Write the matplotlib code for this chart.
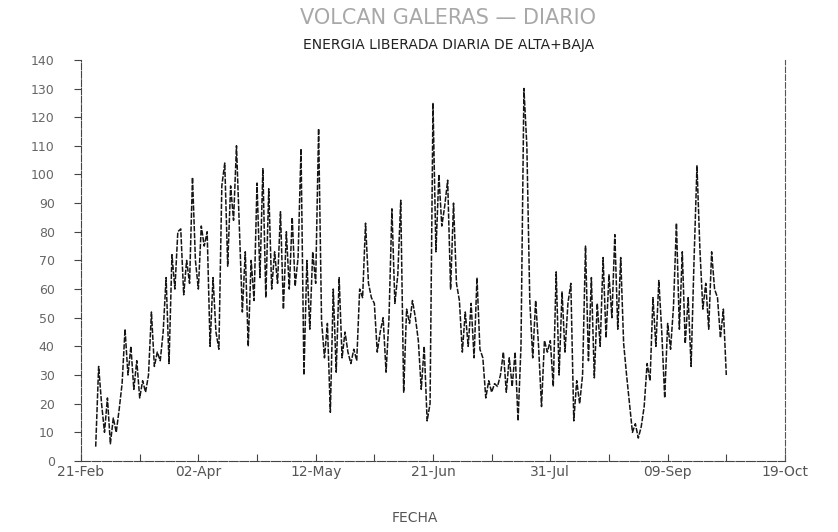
import matplotlib
matplotlib.use("Agg")
import matplotlib.pyplot as plt
import pandas as pd

# ---- data (daily released energy) ----
start_date = "1993-02-26"
energy = [5, 33, 20, 10, 22, 6, 15, 10, 18, 27,
          46, 30, 40, 25, 35, 22, 28, 24, 30, 52,
          33, 38, 35, 45, 64, 34, 72, 60, 80, 81,
          58, 70, 62, 99, 70, 60, 82, 75, 80, 40,
          64, 45, 39, 96, 104, 68, 96, 84, 110, 81,
          52, 73, 40, 70, 56, 97, 64, 102, 57, 95,
          60, 73, 62, 87, 53, 80, 60, 85, 61, 71,
          109, 30, 70, 46, 73, 62, 116, 49, 36, 48,
          17, 60, 31, 64, 36, 45, 38, 34, 39, 35,
          60, 57, 83, 62, 57, 55, 38, 45, 50, 31,
          50, 88, 55, 65, 91, 24, 53, 48, 56, 50,
          42, 25, 40, 14, 20, 125, 73, 100, 82, 89,
          98, 60, 90, 62, 56, 38, 52, 40, 55, 36,
          64, 39, 36, 22, 28, 24, 27, 26, 30, 38,
          24, 36, 26, 38, 14, 40, 130, 110, 56, 36,
          56, 40, 19, 42, 38, 42, 26, 66, 30, 59,
          38, 55, 62, 14, 28, 20, 30, 75, 35, 64,
          29, 55, 40, 71, 43, 65, 50, 79, 46, 71,
          41, 30, 20, 10, 13, 8, 12, 19, 34, 28,
          57, 40, 63, 45, 22, 48, 39, 54, 83, 46,
          73, 41, 57, 33, 70, 103, 74, 53, 62, 46,
          73, 60, 57, 43, 53, 30]
tick_dates = ["1993-02-21", "1993-04-02", "1993-05-12", "1993-06-21",
              "1993-07-31", "1993-09-09", "1993-10-19"]
tick_labels = ["21-Feb", "02-Apr", "12-May", "21-Jun", "31-Jul", "09-Sep", "19-Oct"]
y_ticks = list(range(0, 141, 10))

title_main = "VOLCAN GALERAS — DIARIO"
title_sub = "ENERGIA LIBERADA DIARIA DE ALTA+BAJA"
x_label = "FECHA"

dates = pd.date_range(start_date, periods=len(energy), freq="D")

fig = plt.figure(figsize=(8.38, 5.32), dpi=100)
ax = fig.add_axes([0.0967, 0.1335, 0.840, 0.754])

ax.plot(dates, energy, color="#151515", linewidth=1.1,
        linestyle=(0, (3.5, 1.0)))

ax.set_xlim(pd.Timestamp(tick_dates[0]), pd.Timestamp(tick_dates[-1]))
ax.set_ylim(0, 140)

ax.set_xticks(pd.to_datetime(tick_dates))
ax.set_xticklabels(tick_labels)
minor = pd.date_range(tick_dates[0], tick_dates[-1], freq="20D")
ax.set_xticks(minor, minor=True)
ax.set_yticks(y_ticks)
ax.set_yticklabels([str(v) for v in y_ticks])

ax.tick_params(axis="x", which="both", direction="in", length=5,
               width=0.8, colors="#444", labelsize=10, pad=3,
               labelcolor="#555")
ax.tick_params(axis="y", which="both", direction="out", length=5,
               width=0.8, colors="#444", labelsize=9, pad=14,
               labelcolor="#666")

ax.spines["top"].set_visible(False)
ax.spines["left"].set_color("#444")
ax.spines["left"].set_linestyle((0, (6, 1.5)))
ax.spines["bottom"].set_color("#444")
ax.spines["bottom"].set_linestyle((0, (8, 1.5)))
ax.spines["right"].set_color("#555")
ax.spines["right"].set_linestyle((0, (5, 2)))
ax.set_facecolor("white")

fig.text(0.535, 0.966, title_main, ha="center", va="center",
         fontsize=15, color="#a8a8a8")
fig.text(0.535, 0.915, title_sub, ha="center", va="center",
         fontsize=10, color="#222")
fig.text(0.495, 0.026, x_label, ha="center", va="center",
         fontsize=10, color="#555")

fig.savefig("out.png", dpi=100, facecolor="white")
